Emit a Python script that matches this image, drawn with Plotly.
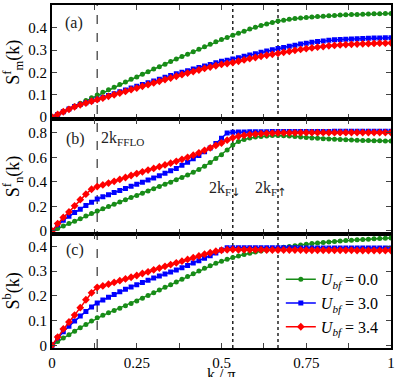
import numpy as np
import plotly.graph_objects as go
from plotly.subplots import make_subplots

# momentum grid, L = 60 sites -> k/pi = n/60
k = np.arange(61) / 60.0

k_fflo = 8 / 60.0
k_fdown = 32 / 60.0
k_fup = 40 / 60.0

labels = ['<i>U</i><sub><i>bf</i></sub> = 0.0',
          '<i>U</i><sub><i>bf</i></sub> = 3.0',
          '<i>U</i><sub><i>bf</i></sub> = 3.4']

# (a) S^f_m(k)
sm_u00 = [0.000, 0.012, 0.025, 0.037, 0.050, 0.062, 0.074, 0.087, 0.099, 0.111,
          0.122, 0.134, 0.146, 0.157, 0.169, 0.180, 0.192, 0.203, 0.215, 0.226,
          0.237, 0.249, 0.260, 0.271, 0.282, 0.293, 0.304, 0.315, 0.326, 0.337,
          0.347, 0.357, 0.367, 0.376, 0.385, 0.394, 0.402, 0.410, 0.417, 0.424,
          0.430, 0.434, 0.438, 0.441, 0.444, 0.446, 0.448, 0.450, 0.452, 0.454,
          0.455, 0.457, 0.458, 0.459, 0.460, 0.461, 0.462, 0.463, 0.463, 0.464,
          0.464]
sm_u30 = [0.000, 0.012, 0.024, 0.036, 0.047, 0.056, 0.064, 0.072, 0.080, 0.088,
          0.097, 0.105, 0.113, 0.121, 0.130, 0.138, 0.146, 0.154, 0.162, 0.170,
          0.178, 0.186, 0.194, 0.201, 0.208, 0.215, 0.222, 0.229, 0.236, 0.243,
          0.250, 0.255, 0.260, 0.266, 0.272, 0.278, 0.284, 0.290, 0.296, 0.302,
          0.307, 0.312, 0.317, 0.322, 0.327, 0.331, 0.335, 0.338, 0.341, 0.344,
          0.346, 0.348, 0.349, 0.350, 0.351, 0.352, 0.353, 0.354, 0.354, 0.355,
          0.355]
sm_u34 = [0.000, 0.012, 0.024, 0.035, 0.046, 0.055, 0.063, 0.071, 0.078, 0.085,
          0.093, 0.100, 0.108, 0.115, 0.123, 0.130, 0.138, 0.145, 0.153, 0.160,
          0.168, 0.175, 0.183, 0.190, 0.197, 0.204, 0.211, 0.218, 0.224, 0.230,
          0.236, 0.240, 0.244, 0.250, 0.256, 0.262, 0.267, 0.272, 0.277, 0.281,
          0.285, 0.290, 0.294, 0.299, 0.303, 0.307, 0.310, 0.313, 0.316, 0.319,
          0.321, 0.323, 0.325, 0.326, 0.327, 0.328, 0.329, 0.330, 0.331, 0.331,
          0.332]

# (b) S^f_n(k)
sn_u00 = [0.000, 0.020, 0.040, 0.060, 0.080, 0.100, 0.121, 0.142, 0.163, 0.182,
          0.200, 0.218, 0.236, 0.254, 0.272, 0.290, 0.308, 0.326, 0.344, 0.362,
          0.380, 0.398, 0.417, 0.436, 0.456, 0.478, 0.502, 0.528, 0.558, 0.590,
          0.622, 0.660, 0.700, 0.730, 0.746, 0.757, 0.765, 0.771, 0.775, 0.778,
          0.779, 0.777, 0.774, 0.770, 0.766, 0.762, 0.758, 0.755, 0.752, 0.749,
          0.747, 0.745, 0.743, 0.741, 0.739, 0.738, 0.737, 0.736, 0.735, 0.734,
          0.733]
sn_u30 = [0.000, 0.050, 0.088, 0.120, 0.150, 0.178, 0.207, 0.234, 0.260, 0.278,
          0.296, 0.313, 0.330, 0.347, 0.364, 0.381, 0.398, 0.415, 0.432, 0.450,
          0.470, 0.490, 0.510, 0.535, 0.560, 0.588, 0.616, 0.645, 0.677, 0.713,
          0.755, 0.798, 0.805, 0.806, 0.807, 0.808, 0.808, 0.809, 0.809, 0.810,
          0.810, 0.810, 0.810, 0.811, 0.811, 0.811, 0.811, 0.811, 0.811, 0.811,
          0.812, 0.812, 0.812, 0.812, 0.812, 0.812, 0.812, 0.812, 0.812, 0.812,
          0.812]
sn_u34 = [0.000, 0.060, 0.110, 0.155, 0.205, 0.255, 0.300, 0.340, 0.362, 0.375,
          0.390, 0.405, 0.420, 0.436, 0.452, 0.468, 0.482, 0.496, 0.510, 0.524,
          0.538, 0.553, 0.568, 0.584, 0.600, 0.618, 0.637, 0.657, 0.677, 0.697,
          0.717, 0.740, 0.760, 0.772, 0.780, 0.786, 0.790, 0.793, 0.796, 0.798,
          0.799, 0.800, 0.800, 0.800, 0.801, 0.801, 0.801, 0.801, 0.801, 0.801,
          0.801, 0.801, 0.801, 0.802, 0.802, 0.802, 0.802, 0.802, 0.802, 0.802,
          0.802]

# (c) S^b(k)
sb_u00 = [0.000, 0.015, 0.029, 0.043, 0.057, 0.071, 0.084, 0.098, 0.111, 0.121,
          0.131, 0.141, 0.150, 0.160, 0.169, 0.179, 0.190, 0.201, 0.212, 0.223,
          0.234, 0.245, 0.256, 0.267, 0.278, 0.289, 0.300, 0.311, 0.321, 0.331,
          0.340, 0.348, 0.355, 0.361, 0.367, 0.372, 0.377, 0.381, 0.385, 0.389,
          0.392, 0.396, 0.399, 0.402, 0.405, 0.408, 0.411, 0.413, 0.415, 0.417,
          0.419, 0.421, 0.423, 0.424, 0.426, 0.427, 0.428, 0.430, 0.431, 0.432,
          0.433]
sb_u30 = [0.000, 0.030, 0.055, 0.077, 0.098, 0.118, 0.137, 0.155, 0.171, 0.183,
          0.194, 0.205, 0.216, 0.226, 0.236, 0.245, 0.254, 0.263, 0.272, 0.280,
          0.288, 0.296, 0.304, 0.313, 0.322, 0.332, 0.342, 0.352, 0.362, 0.373,
          0.385, 0.394, 0.394, 0.394, 0.394, 0.394, 0.394, 0.394, 0.394, 0.394,
          0.394, 0.394, 0.394, 0.394, 0.393, 0.393, 0.393, 0.393, 0.393, 0.393,
          0.393, 0.393, 0.393, 0.393, 0.393, 0.393, 0.393, 0.393, 0.393, 0.393,
          0.393]
sb_u34 = [0.000, 0.033, 0.066, 0.094, 0.122, 0.152, 0.184, 0.212, 0.234, 0.240,
          0.247, 0.254, 0.261, 0.268, 0.275, 0.282, 0.290, 0.297, 0.305, 0.312,
          0.319, 0.326, 0.333, 0.340, 0.347, 0.354, 0.361, 0.368, 0.374, 0.380,
          0.384, 0.386, 0.387, 0.386, 0.386, 0.386, 0.386, 0.386, 0.385, 0.385,
          0.385, 0.385, 0.385, 0.385, 0.385, 0.384, 0.384, 0.384, 0.384, 0.384,
          0.384, 0.384, 0.384, 0.384, 0.383, 0.383, 0.383, 0.383, 0.383, 0.383,
          0.383]

colors = ['rgb(24,140,24)', 'rgb(0,0,255)', 'rgb(255,0,0)']
symbols = ['circle', 'square', 'diamond']
sizes = [5, 5, 6]
FONT = 'Liberation Serif, Times New Roman, Times, serif'
ARROW = '<span style="font-family:DejaVu Sans">{}</span>'

panels = [
    (1, [sm_u00, sm_u30, sm_u34], 'S<sup>f</sup><sub>m</sub>(k)', [-0.01, 0.502], 0.1),
    (2, [sn_u00, sn_u30, sn_u34], 'S<sup>f</sup><sub>n</sub>(k)', [-0.022, 0.91], 0.2),
    (3, [sb_u00, sb_u30, sb_u34], 'S<sup>b</sup>(k)', [-0.011, 0.451], 0.1),
]

fig = make_subplots(rows=3, cols=1, shared_xaxes=True, vertical_spacing=0)

for row, series, title, yrange, dtick in panels:
    for i, ys in enumerate(series):
        fig.add_trace(go.Scatter(
            x=k, y=ys, mode='lines+markers', name=labels[i],
            line=dict(color=colors[i], width=1.5),
            marker=dict(symbol=symbols[i], size=sizes[i], color=colors[i]),
            showlegend=(row == 3)), row=row, col=1)
    fig.update_yaxes(range=yrange, dtick=dtick, ticks='inside', ticklen=5,
                     showline=True, linewidth=2, linecolor='black', mirror='ticks',
                     showgrid=False, zeroline=False, automargin=False,
                     title=dict(text=title, font=dict(size=18, family=FONT), standoff=4),
                     tickfont=dict(size=15, family=FONT, color='black'),
                     row=row, col=1)

fig.update_xaxes(range=[0, 1], dtick=0.25, ticks='inside', ticklen=5,
                 minor=dict(dtick=0.125, ticks='inside', ticklen=5),
                 showline=True, linewidth=2, linecolor='black', mirror='ticks',
                 showgrid=False, zeroline=False, automargin=False,
                 tickfont=dict(size=15, family=FONT, color='black'))

# x axis title as a paper annotation, to keep it inside the small canvas
fig.add_annotation(xref='paper', yref='paper', x=0.5, y=-0.109, text='k / π',
                   showarrow=False, yanchor='bottom',
                   font=dict(size=16, family=FONT, color='black'))

# reference momenta
for xv, dash, col in [(k_fflo, 'dash', '#444'), (k_fdown, 'dot', 'black'), (k_fup, 'dot', 'black')]:
    fig.add_shape(type='line', xref='x3', yref='paper', x0=xv, x1=xv, y0=0, y1=1,
                  line=dict(color=col, width=1.3, dash=dash), layer='below')

# the arrow labels render ~28 px right of their anchor, so they are anchored a bit left
ann = [
    ('x', 'y', 0.064, 0.42, '(a)', 'center'),
    ('x2', 'y2', 0.069, 0.75, '(b)', 'center'),
    ('x3', 'y3', 0.069, 0.383, '(c)', 'center'),
    ('x2', 'y2', 0.14, 0.75, '2k<sub>FFLO</sub>', 'left'),
    ('x2', 'y2', 0.457, 0.34, '2k<sub>F' + ARROW.format('↓') + '</sub>', 'left'),
    ('x2', 'y2', 0.594, 0.34, '2k<sub>F' + ARROW.format('↑') + '</sub>', 'left'),
]
for xr, yr, xv, yv, txt, xa in ann:
    fig.add_annotation(xref=xr, yref=yr, x=xv, y=yv, text=txt, showarrow=False,
                       xanchor=xa, font=dict(size=16, family=FONT, color='#222'))

fig.update_layout(
    width=395, height=377,
    margin=dict(l=52, r=4, t=5, b=29),
    paper_bgcolor='white', plot_bgcolor='white',
    font=dict(family=FONT, color='black'),
    legend=dict(x=0.675, y=0.25, xanchor='left', yanchor='top',
                bgcolor='rgba(0,0,0,0)', font=dict(size=16, family=FONT),
                itemwidth=30, tracegroupgap=0),
)

# drop the browser's default 8px body margin so the figure sits at the corner
fig.write_html("out.html", config={'displayModeBar': False},
               post_script="document.body.style.margin='0';")
